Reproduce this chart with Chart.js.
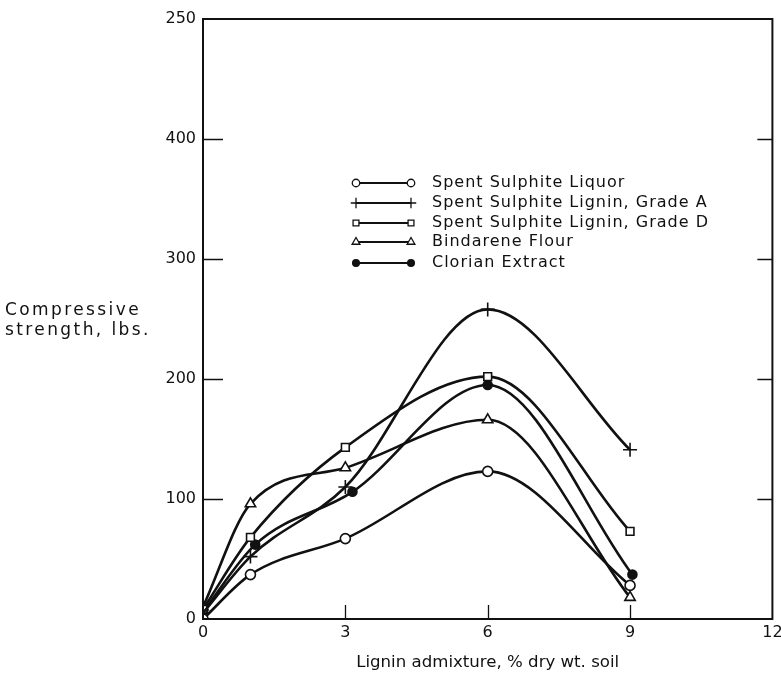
<!DOCTYPE html>
<html>
<head>
<meta charset="utf-8">
<script src="https://cdn.jsdelivr.net/npm/chart.js@4/dist/chart.umd.min.js"></script>
<style>
  html, body { margin: 0; padding: 0; background: #fff; }
  canvas { display: block; }
</style>
</head>
<body>
<canvas id="c" width="781" height="676"></canvas>
<script>
// Lignin admixture levels (% dry wt. soil)
const admixture = [0, 1, 3, 6, 9];
const admixtureClorian = [0, 1.1, 3.15, 6.0, 9.05];

// Compressive strength, lbs.
const spentSulphiteLiquor = [0, 37, 67, 123, 28];
const ligninGradeA = [5, 52, 110, 258, 141];
const ligninGradeD = [8, 68, 143, 202, 73];
const bindareneFlour = [10, 96, 126, 166, 18];
const clorianExtract = [6, 62, 106, 195, 37];

const seriesNames = [
  'Spent Sulphite Liquor',
  'Spent Sulphite Lignin, Grade A',
  'Spent Sulphite Lignin, Grade D',
  'Bindarene Flour',
  'Clorian Extract'
];

// Tick labels as printed on the axes
const yTickValues = [0, 100, 200, 300, 400, 500];
const yTickLabels = ['0', '100', '200', '300', '400', '250'];
const xTickLabels = ['0', '3', '6', '9', '12'];

const INK = '#111';
const FONT = '"DejaVu Sans", sans-serif';

function pts(xs, ys) { return xs.map((x, i) => ({ x: x, y: ys[i] })); }

function series(label, xs, ys, style, radius, fill) {
  return {
    label: label,
    data: pts(xs, ys),
    borderColor: INK,
    borderWidth: 2.6,
    pointStyle: style,
    pointRadius: radius,
    pointBorderWidth: 1.6,
    pointBorderColor: INK,
    pointBackgroundColor: fill,
    cubicInterpolationMode: 'monotone',
    fill: false
  };
}

const datasets = [
  series(seriesNames[0], admixture, spentSulphiteLiquor, 'circle', 5, '#fff'),
  series(seriesNames[1], admixture, ligninGradeA, 'cross', 7, '#fff'),
  series(seriesNames[2], admixture, ligninGradeD, 'rect', 5.5, '#fff'),
  series(seriesNames[3], admixture, bindareneFlour, 'triangle', 6, '#fff'),
  series(seriesNames[4], admixtureClorian, clorianExtract, 'circle', 4.5, INK)
];

// Frame, inward tick marks, horizontal y title and the in-plot key
const decorations = {
  id: 'decorations',
  afterDatasetsDraw(chart) {
    const { ctx, chartArea: a, scales } = chart;
    const y = scales.y, x = scales.x;
    ctx.save();
    ctx.strokeStyle = INK;
    ctx.lineWidth = 2;
    ctx.strokeRect(a.left, a.top, a.right - a.left, a.bottom - a.top);

    ctx.lineWidth = 1.3;
    ctx.beginPath();
    [100, 200, 300, 400].forEach(v => {
      const py = Math.round(y.getPixelForValue(v)) + 0.5;
      ctx.moveTo(a.left, py); ctx.lineTo(a.left + 20, py);
      ctx.moveTo(a.right, py); ctx.lineTo(a.right - 15, py);
    });
    [3, 6, 9].forEach(v => {
      const px = Math.round(x.getPixelForValue(v)) + 0.5;
      ctx.moveTo(px, a.bottom); ctx.lineTo(px, a.bottom - 14);
    });
    ctx.stroke();

    // y-axis title, written horizontally
    ctx.fillStyle = INK;
    ctx.font = '17px ' + FONT;
    ctx.letterSpacing = '2.4px';
    ctx.textAlign = 'left';
    ctx.textBaseline = 'middle';
    ctx.fillText('Compressive', 5, 311);
    ctx.fillText('strength, lbs.', 5, 331);

    // key
    const rowY = [183, 203, 223, 242, 263];
    const x0 = 356, x1 = 411;
    chart.data.datasets.forEach((ds, i) => {
      const yy = rowY[i];
      ctx.strokeStyle = INK;
      ctx.lineWidth = 2;
      ctx.beginPath();
      ctx.moveTo(x0, yy); ctx.lineTo(x1, yy);
      ctx.stroke();
      const opts = {
        pointStyle: ds.pointStyle,
        radius: ds.pointRadius * 0.75,
        borderWidth: 1.3
      };
      ctx.fillStyle = ds.pointBackgroundColor;
      ctx.strokeStyle = INK;
      ctx.lineWidth = 1.3;
      Chart.helpers.drawPoint(ctx, opts, x0, yy);
      Chart.helpers.drawPoint(ctx, opts, x1, yy);
      ctx.fillStyle = INK;
      ctx.font = '16px ' + FONT;
      ctx.letterSpacing = '1px';
      ctx.textAlign = 'left';
      ctx.textBaseline = 'middle';
      ctx.fillText(ds.label, 432, yy);
    });
    ctx.letterSpacing = '0px';
    ctx.restore();
  }
};

new Chart(document.getElementById('c'), {
  type: 'line',
  data: { datasets: datasets },
  options: {
    responsive: false,
    devicePixelRatio: 1,
    animation: false,
    layout: { padding: { top: 19, right: 8, left: 0, bottom: 0 } },
    plugins: { legend: { display: false }, tooltip: { enabled: false } },
    scales: {
      x: {
        type: 'linear',
        min: 0, max: 12,
        afterBuildTicks(s) { s.ticks = [0, 3, 6, 9, 12].map(v => ({ value: v })); },
        afterFit(s) { s.height = 57; s.paddingRight = 0; s.paddingLeft = 0; },
        grid: { display: false, drawTicks: false },
        border: { display: false },
        ticks: {
          color: INK,
          font: { family: FONT, size: 16 },
          padding: 4,
          maxRotation: 0,
          callback(v, i) { return xTickLabels[i]; }
        },
        title: {
          display: true,
          text: 'Lignin admixture, % dry wt. soil',
          color: INK,
          font: { family: FONT, size: 16.6 },
          padding: { top: 4, bottom: 3 }
        }
      },
      y: {
        type: 'linear',
        min: 0, max: 500,
        afterBuildTicks(s) { s.ticks = yTickValues.map(v => ({ value: v })); },
        afterFit(s) { s.width = 203; s.paddingTop = 0; s.paddingBottom = 0; },
        grid: { display: false, drawTicks: false },
        border: { display: false },
        ticks: {
          color: INK,
          font: { family: FONT, size: 16 },
          padding: 7,
          callback(v, i) { return yTickLabels[i]; }
        }
      }
    }
  },
  plugins: [decorations]
});
</script>
</body>
</html>
